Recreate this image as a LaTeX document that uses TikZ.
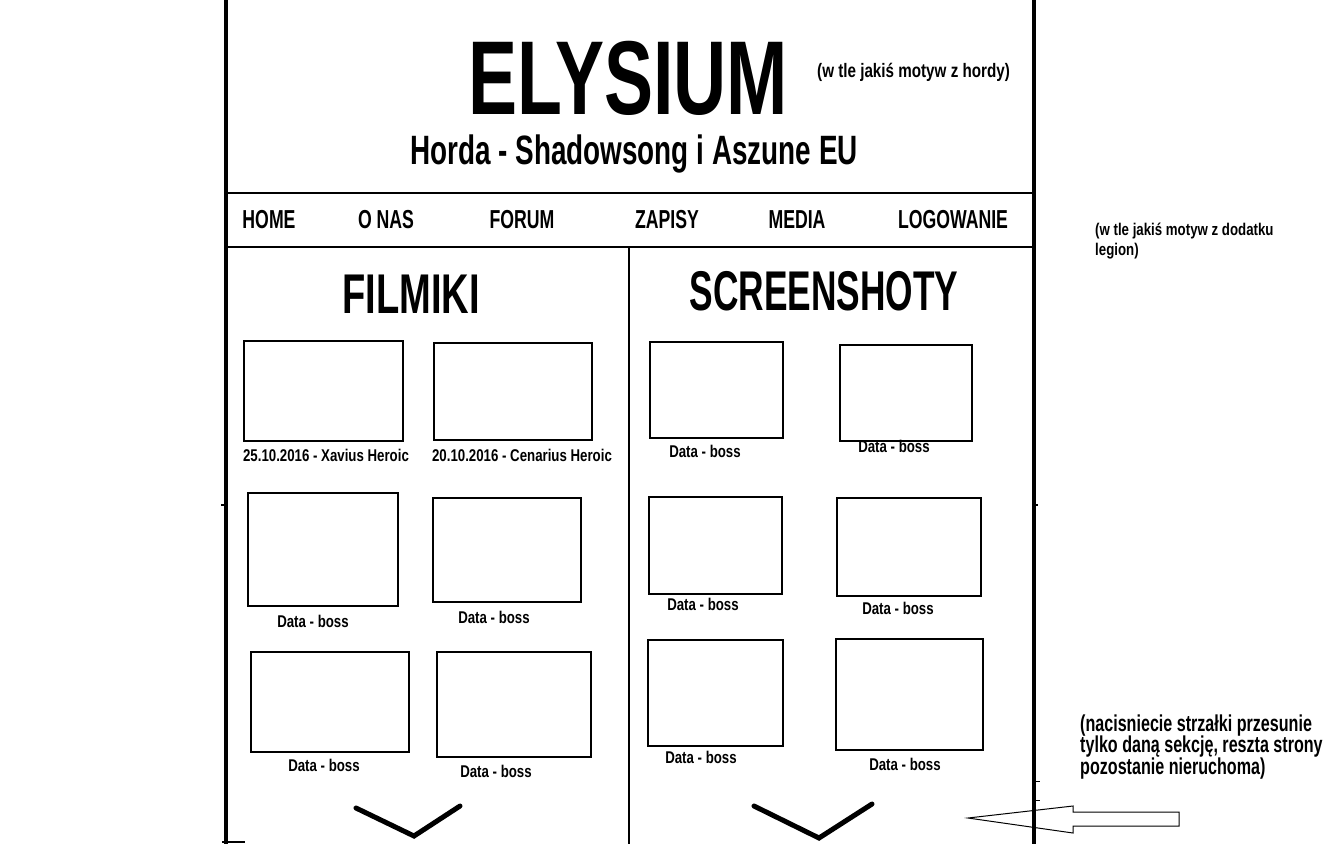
\documentclass[tikz,border=0pt]{standalone}
\usepackage{fontspec}
\newfontfamily\imp{Liberation Sans}[FakeStretch=0.68]
\newfontfamily\impt{Liberation Sans}[FakeStretch=0.70]
\newfontfamily\imps{Liberation Sans}[FakeStretch=0.78]
\newfontfamily\impn{Liberation Sans}[FakeStretch=0.70]
\tikzset{
  frame/.style={line width=4.5pt},
  sep/.style={line width=1.4pt},
  pic/.style={line width=1.3pt},
  chev/.style={line width=5pt, line cap=round, line join=miter},
  title/.style={inner sep=0pt, anchor=base, font=\impt\bfseries\fontsize{105}{105}\selectfont},
  sub/.style={inner sep=0pt, anchor=base, font=\imp\bfseries\fontsize{41}{41}\selectfont},
  nav/.style={inner sep=0pt, anchor=base, font=\imp\bfseries\fontsize{26}{26}\selectfont},
  head/.style={inner sep=0pt, anchor=base, font=\imp\bfseries\fontsize{56}{56}\selectfont},
  boxcap/.style={inner sep=0pt, anchor=base, font=\imps\bfseries\fontsize{17}{17}\selectfont},
  note/.style={inner sep=0pt, anchor=base west, font=\imps\bfseries\fontsize{17}{19.5}\selectfont, align=left},
  bignote/.style={inner sep=0pt, anchor=base west, font=\impn\bfseries\fontsize{23}{21.5}\selectfont, align=left},
}
\begin{document}
\begin{tikzpicture}[x=1pt,y=-1pt]
\useasboundingbox[fill=white] (0,0) rectangle (1330,844);

% arrow (drawn before frame)
\draw[line width=1pt] (968,818) -- (1073,806) -- (1073,812) -- (1179,812) -- (1179,826) -- (1073,826) -- (1073,833) -- cycle;

% frame
\draw[frame] (226,0) -- (226,844);
\draw[frame] (1034,0) -- (1034,844);
\draw[sep] (228,193) -- (1032,193);
\draw[sep] (228,247) -- (1032,247);
\draw[line width=1.2pt] (629,247) -- (629,844);
\draw[line width=2pt] (221,505) -- (226,505);
\draw[line width=2pt] (1034,505) -- (1038,505);
\draw[line width=1pt] (1034,781) -- (1040,781);
\draw[line width=1pt] (1034,800) -- (1040,800);
\draw[line width=2pt] (222,842) -- (245,842);

% header
\node[title] (t) at (628,114) {ELYSIUM};
\node[sub] (s) at (634,164) {Horda - Shadowsong i Aszune EU};
\node[note, font=\imps\bfseries\fontsize{19.5}{19.5}\selectfont] (n1) at (817,77) {(w tle jakiś motyw z hordy)};

% nav
\node[nav] (home) at (269,228) {HOME};
\node[nav] (onas) at (386,228) {O NAS};
\node[nav] (forum) at (522,228) {FORUM};
\node[nav] (zapisy) at (667,228) {ZAPISY};
\node[nav] (media) at (797,228) {MEDIA};
\node[nav] (logo) at (953,228) {LOGOWANIE};

\node[note] (n2) at (1095,255) {(w tle jakiś motyw z dodatku\\legion)};

% section headings
\node[head] (fil) at (411,313) {FILMIKI};
\node[head] (scr) at (824,310) {\scalebox{0.927}[1]{SCREENSHOTY}};

% left boxes
\draw[pic] (244,341) rectangle (403,441);
\draw[pic] (434,343) rectangle (592,440);
\draw[pic] (248,493) rectangle (398,606);
\draw[pic] (433,498) rectangle (581,602);
\draw[pic] (251,652) rectangle (409,752);
\draw[pic] (437,652) rectangle (591,757);
\node[boxcap] (ca) at (326,461) {25.10.2016 - Xavius Heroic};
\node[boxcap] (cb) at (522,461) {20.10.2016 - Cenarius Heroic};
\node[boxcap] (cc) at (313,627) {Data - boss};
\node[boxcap] (cd) at (494,623) {Data - boss};
\node[boxcap] (ce) at (324,771) {Data - boss};
\node[boxcap] (cf) at (496,777) {Data - boss};

% right boxes
\draw[pic] (650,342) rectangle (783,438);
\draw[pic] (840,345) rectangle (972,441);
\draw[pic] (649,497) rectangle (782,594);
\draw[pic] (837,498) rectangle (981,596);
\draw[pic] (648,640) rectangle (783,746);
\draw[pic] (836,639) rectangle (983,750);
\node[boxcap] (cg) at (705,457) {Data - boss};
\node[boxcap] (ch) at (894,452) {Data - boss};
\node[boxcap] (ci) at (703,610) {Data - boss};
\node[boxcap] (cj) at (898,614) {Data - boss};
\node[boxcap] (ck) at (701,763) {Data - boss};
\node[boxcap] (cl) at (905,770) {Data - boss};

% chevrons
\draw[chev] (356,808) -- (414,836) -- (460,806);
\draw[chev] (754,806) -- (819,838) -- (872,804);

% bottom note
\node[bignote] (n3) at (1080,774) {(nacisniecie strzałki przesunie\\tylko daną sekcję, reszta strony\\pozostanie nieruchoma)};
\end{tikzpicture}
\end{document}
